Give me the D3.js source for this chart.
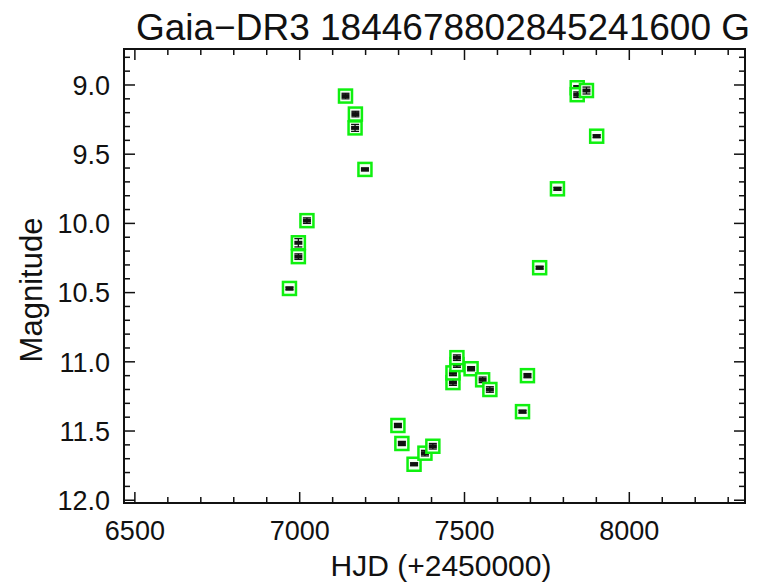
<!DOCTYPE html>
<html>
<head>
<meta charset="utf-8">
<script src="https://cdn.jsdelivr.net/npm/d3@7"></script>
<style>
  body { margin: 0; background: #fff; }
  svg text { font-family: "Liberation Sans", Arial, sans-serif; fill: #111; }
</style>
</head>
<body>
<div id="chart"></div>
<script>
// light curve values
var hjd = [6969, 6996, 6996, 7022, 7139, 7169, 7168, 7198, 7298, 7310, 7347, 7380, 7404,
           7465, 7465, 7477, 7477, 7520, 7555, 7577, 7676, 7691, 7728, 7782, 7842, 7842, 7870, 7901];
var mag = [10.47, 10.14, 10.24, 9.98, 9.08, 9.21, 9.31, 9.61, 11.46, 11.59, 11.74, 11.66, 11.61,
           11.15, 11.08, 11.02, 10.97, 11.05, 11.13, 11.20, 11.36, 11.10, 10.32, 9.75, 9.02, 9.07, 9.04, 9.37];
var err = [0.01, 0.03, 0.02, 0.02, 0.02, 0.02, 0.025, 0.01, 0.015, 0.015, 0.01, 0.02, 0.02,
           0.02, 0.02, 0.02, 0.02, 0.015, 0.02, 0.02, 0.01, 0.015, 0.01, 0.01, 0.015, 0.02, 0.025, 0.01];
var xTicks = [6500, 7000, 7500, 8000];
var yTicks = [9.0, 9.5, 10.0, 10.5, 11.0, 11.5, 12.0];
var title = "Gaia\u2212DR3 1844678802845241600 G";

var w = 763, h = 585;
var margin = {top: 49, right: 18, bottom: 82, left: 124},
    width = w - margin.left - margin.right,
    height = h - margin.top - margin.bottom;

var svg = d3.select("#chart").append("svg")
    .attr("width", w)
    .attr("height", h);

var g = svg.append("g")
    .attr("transform", "translate(" + margin.left + "," + margin.top + ")");

var x = d3.scaleLinear().domain([6467, 8351]).range([0, width]);
var y = d3.scaleLinear().domain([8.74, 12.02]).range([0, height]);

var xMinor = d3.range(6500, 8400, 100).filter(function(v) { return xTicks.indexOf(v) < 0; });
var yMinor = d3.range(88, 121, 1).map(function(v) { return v / 10; })
    .filter(function(v) { return yTicks.indexOf(v) < 0; });

// ticks on all four sides, pointing in
function xTickMarks(vals, len) {
  g.selectAll(null).data(vals).enter().append("line")
    .attr("x1", function(d) { return x(d); }).attr("x2", function(d) { return x(d); })
    .attr("y1", height).attr("y2", height - len)
    .attr("stroke", "#111").attr("stroke-width", 1.5);
  g.selectAll(null).data(vals).enter().append("line")
    .attr("x1", function(d) { return x(d); }).attr("x2", function(d) { return x(d); })
    .attr("y1", 0).attr("y2", len)
    .attr("stroke", "#111").attr("stroke-width", 1.5);
}
function yTickMarks(vals, len) {
  g.selectAll(null).data(vals).enter().append("line")
    .attr("y1", function(d) { return y(d); }).attr("y2", function(d) { return y(d); })
    .attr("x1", 0).attr("x2", len)
    .attr("stroke", "#111").attr("stroke-width", 1.5);
  g.selectAll(null).data(vals).enter().append("line")
    .attr("y1", function(d) { return y(d); }).attr("y2", function(d) { return y(d); })
    .attr("x1", width).attr("x2", width - len)
    .attr("stroke", "#111").attr("stroke-width", 1.5);
}
xTickMarks(xTicks, 11);
xTickMarks(xMinor, 6);
yTickMarks(yTicks, 11);
yTickMarks(yMinor, 6);

g.append("rect")
    .attr("width", width).attr("height", height)
    .attr("fill", "none").attr("stroke", "#111").attr("stroke-width", 2);

g.selectAll(".xlab").data(xTicks).enter().append("text")
    .attr("class", "xlab")
    .attr("x", function(d) { return x(d); })
    .attr("y", height + 37)
    .attr("text-anchor", "middle")
    .attr("font-size", 27)
    .text(function(d) { return d; });

g.selectAll(".ylab").data(yTicks).enter().append("text")
    .attr("class", "ylab")
    .attr("x", -14)
    .attr("y", function(d) { return y(d); })
    .attr("dy", "0.36em")
    .attr("text-anchor", "end")
    .attr("font-size", 27)
    .text(function(d) { return d3.format(".1f")(d); });

svg.append("text")
    .attr("x", 441)
    .attr("y", 576)
    .attr("text-anchor", "middle")
    .attr("font-size", 30)
    .text("HJD (+2450000)");

svg.append("text")
    .attr("transform", "translate(42,290) rotate(-90)")
    .attr("text-anchor", "middle")
    .attr("font-size", 31)
    .text("Magnitude");

svg.append("text")
    .attr("x", 443)
    .attr("y", 40)
    .attr("text-anchor", "middle")
    .attr("font-size", 37)
    .text(title);

// points: green box, black error bar and marker
var pts = hjd.map(function(d, i) { return {t: d, m: mag[i], e: err[i]}; });

var pt = g.selectAll(".pt").data(pts).enter().append("g")
    .attr("class", "pt")
    .attr("transform", function(d) { return "translate(" + x(d.t) + "," + y(d.m) + ")"; });

pt.append("rect")
    .attr("x", -6.5).attr("y", -6.5)
    .attr("width", 13).attr("height", 13)
    .attr("fill", "#f4fff4")
    .attr("stroke", "#0ff00f").attr("stroke-width", 2.5);

pt.append("line")
    .attr("x1", 0).attr("x2", 0)
    .attr("y1", function(d) { return y(d.m - d.e) - y(d.m); })
    .attr("y2", function(d) { return y(d.m + d.e) - y(d.m); })
    .attr("stroke", "#111").attr("stroke-width", 1.3);

pt.selectAll(".cap").data(function(d) { return [-d.e, d.e].map(function(e) { return y(d.m + e) - y(d.m); }); })
  .enter().append("line")
    .attr("x1", -4).attr("x2", 4)
    .attr("y1", function(d) { return d; }).attr("y2", function(d) { return d; })
    .attr("stroke", "#111").attr("stroke-width", 1.3);

pt.append("rect")
    .attr("x", -4).attr("y", -2)
    .attr("width", 8).attr("height", 4)
    .attr("fill", "#111");
</script>
</body>
</html>
